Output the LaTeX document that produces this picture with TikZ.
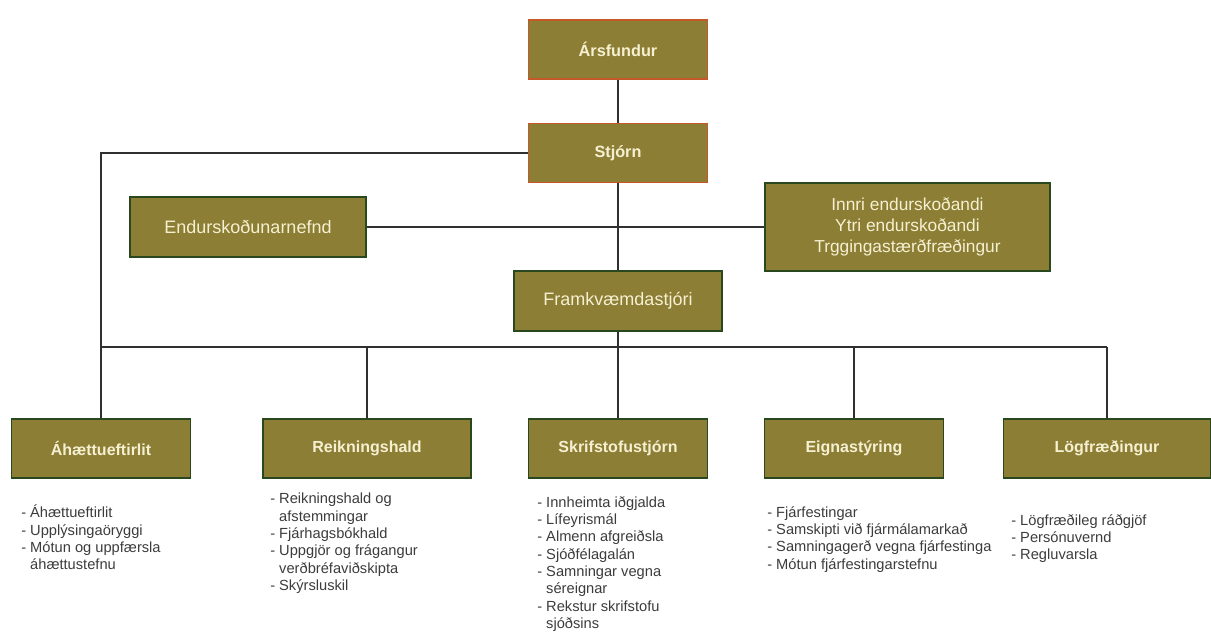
\documentclass[tikz,border=0pt]{standalone}
\usepackage{fontspec}
\setmainfont{Liberation Sans}
\usepackage{tikz}
\definecolor{olive}{RGB}{140,126,52}
\definecolor{rim}{RGB}{196,88,40}
\definecolor{leaf}{RGB}{42,72,30}
\definecolor{cream}{RGB}{246,240,210}
\definecolor{ink}{RGB}{60,60,60}

\begin{document}
\begin{tikzpicture}[x=0.75pt, y=-0.75pt,
  board/.style={draw=rim, line width=1.1pt, fill=olive, text=cream,
    font=\bfseries\fontsize{12.2}{14}\selectfont, align=center,
    minimum width=134pt, minimum height=44.5pt, inner sep=0pt},
  unit/.style={board, draw=leaf, font=\bfseries\fontsize{12}{14}\selectfont},
  midunit/.style={unit, font=\fontsize{13.5}{15.5}\selectfont,
    minimum height=45pt},
  tasks/.style={anchor=north west, align=left, text=ink, inner sep=0pt,
    font=\fontsize{11}{13}\selectfont},
  link/.style={draw=ink!80!black, line width=1.1pt}]

\useasboundingbox (0,0) rectangle (1211,634);

% Efsta lag
\node[board] (ars)    at (618,49.5)  {Ársfundur};
\node[board] (stjorn) at (618,153)   {Stjórn};

% Mið lag
\node[midunit, minimum width=177pt] (endur) at (248,227) {Endurskoðunarnefnd};
\node[midunit, minimum width=213.75pt, minimum height=66pt,
  font=\fontsize{13}{15.5}\selectfont] (innri) at (907.5,227)
  {Innri endurskoðandi\\Ytri endurskoðandi\\Trggingastærðfræðingur};
\node[midunit, minimum width=156pt] (framk) at (618,301)
  {Framkvæmdastjóri};

% Svið
\node[unit] (ahaett)  at (101,448.5)  {Áhættueftirlit};
\node[unit, minimum width=156pt] (reikn) at (367,448.5) {Reikningshald};
\node[unit] (skrif)   at (618,448.5)  {Skrifstofustjórn};
\node[unit] (eigna)   at (854,448.5)  {Eignastýring};
\node[unit, minimum width=155pt] (logfr) at (1107,448.5) {Lögfræðingur};

% Tengingar
\coordinate (busL) at (101,347);
\coordinate (busR) at (1107,347);
\draw[link] (ars) -- (stjorn);
\draw[link] (stjorn.south) -- (framk.north);
\draw[link] (stjorn.west) -| (ahaett.north);
\draw[link] (endur.east) -- (innri.west);
\draw[link] (busL) -- (busR);
\draw[link] (framk.south) -- (framk.south |- busL);
\draw[link] (reikn.north) -- (reikn.north |- busL);
\draw[link] (skrif.north) -- (skrif.north |- busL);
\draw[link] (eigna.north) -- (eigna.north |- busL);
\draw[link] (busR) -- (logfr.north);

% Verkefni
\node[tasks] (t1) at (21,505) {- Áhættueftirlit\\- Upplýsingaöryggi\\
  - Mótun og uppfærsla\\\hphantom{- }áhættustefnu};
\node[tasks] (t2) at (270,493) {- Reikningshald og\\\hphantom{- }afstemmingar\\
  - Fjárhagsbókhald\\- Uppgjör og frágangur\\\hphantom{- }verðbréfaviðskipta\\
  - Skýrsluskil};
\node[tasks] (t3) at (537,496) {- Innheimta iðgjalda\\- Lífeyrismál\\
  - Almenn afgreiðsla\\- Sjóðfélagalán\\- Samningar vegna\\\hphantom{- }séreignar\\
  - Rekstur skrifstofu\\\hphantom{- }sjóðsins};
\node[tasks] (t4) at (767,506) {- Fjárfestingar\\- Samskipti við fjármálamarkað\\
  - Samningagerð vegna fjárfestinga\\- Mótun fjárfestingarstefnu};
\node[tasks] (t5) at (1011,514) {- Lögfræðileg ráðgjöf\\- Persónuvernd\\- Regluvarsla};

\end{tikzpicture}
\end{document}
